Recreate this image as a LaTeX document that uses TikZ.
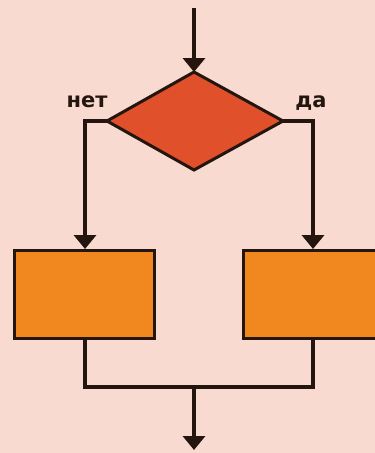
\documentclass[tikz,border=0pt]{standalone}
\usepackage{fontspec}
\newfontfamily\lblfont{DejaVu Sans}
\usetikzlibrary{arrows.meta,shapes.geometric}
\definecolor{bg}{HTML}{F8DAD0}
\definecolor{dia}{HTML}{E0502A}
\definecolor{boxc}{HTML}{F0881F}
\definecolor{ln}{HTML}{24160F}
\begin{document}
\begin{tikzpicture}[x=1pt,y=-1pt,
  conn/.style={draw=ln,line width=4.5pt},
  arr/.style={conn,-{Triangle[width=22pt,length=14pt]}},
  procbox/.style={draw=ln,line width=3pt,fill=boxc,rectangle,minimum width=140pt,minimum height=88pt,inner sep=0pt},
  lbl/.style={text=ln,font=\lblfont\bfseries\fontsize{21}{21}\selectfont,inner sep=0pt}]
\useasboundingbox (0,0) rectangle (375,453);
\clip (0,0) rectangle (375,453);
\fill[bg] (0,0) rectangle (375,453);
% diamond
\coordinate (dt) at (194,72);
\coordinate (dl) at (107,121);
\coordinate (dr) at (283,121);
\coordinate (db) at (194,170);
\draw[draw=ln,line width=3pt,fill=dia,line join=miter] (dt) -- (dr) -- (db) -- (dl) -- cycle;
\node (dec) at (194,121) {};
% boxes
\node[procbox] (b1) at (84,294) {};
\node[procbox,minimum width=150pt] (b2) at (318,294) {};
% coordinates
\coordinate (top) at (194,8);
\coordinate (lc) at (85,121);
\coordinate (rc) at (313,121);
\coordinate (lb) at (85,249);
\coordinate (rb) at (313,249);
\coordinate (lbot) at (85,339);
\coordinate (rbot) at (313,339);
\coordinate (jl) at (85,387);
\coordinate (jr) at (313,387);
\coordinate (jm) at (194,387);
\coordinate (end) at (194,450);
% connectors
\draw[arr] (top) -- (dt);
\draw[arr] (dl) -- (lc) -- (lb);
\draw[arr] (dr) -- (rc) -- (rb);
\draw[conn,line join=miter] (lbot) -- (jl) -- (jr) -- (rbot);
\draw[arr] (jm) -- (end);
% labels
\node[lbl,anchor=base] (no) at (87,107) {нет};
\node[lbl,anchor=base] (yes) at (311,107) {да};
\end{tikzpicture}
\end{document}
